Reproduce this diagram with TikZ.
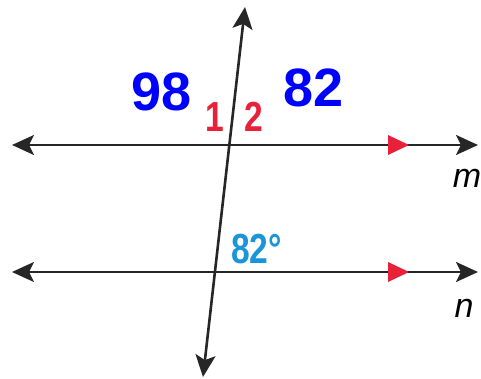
\documentclass[tikz,border=0pt]{standalone}
\usepackage{fontspec}
\setmainfont{Liberation Sans}
\newfontfamily\labelfont[FakeStretch=0.8]{Liberation Sans}
\usepackage{xcolor}
\usepackage[]{tikz}
\usetikzlibrary{positioning,calc}
\usetikzlibrary{arrows.meta}
\definecolor{markRed}{HTML}{E8203A}
\definecolor{angleBlue}{HTML}{1A96D8}
\definecolor{inkBlue}{HTML}{0000FF}
\tikzstyle{lineBlack} =[line width=2.6pt, black!85,
  {Stealth[length=22pt,width=20pt,inset=5pt]}-{Stealth[length=22pt,width=20pt,inset=5pt]}]
\tikzstyle{parMark}   =[fill=markRed]
\tikzstyle{numRed}    =[markRed, inner sep=0pt, font=\labelfont\bfseries\fontsize{42}{42}\selectfont]
\tikzstyle{numBlue}   =[angleBlue, inner sep=0pt, font=\labelfont\bfseries\fontsize{42}{42}\selectfont]
\tikzstyle{numInk}    =[inkBlue, inner sep=0pt, font=\bfseries\fontsize{54}{54}\selectfont]
\tikzstyle{lineName}  =[inner sep=0pt, font=\itshape\fontsize{34}{34}\selectfont]

\begin{document}
\begin{tikzpicture}[x=1pt,y=-1pt]
      \useasboundingbox (0,0) rectangle (481,379);
      % ends of the lines
      \coordinate (mL) at (12,145);
      \coordinate (mR) at (478,145);
      \coordinate (nL) at (12,272);
      \coordinate (nR) at (478,272);
      \coordinate (tT) at (245,7);
      \coordinate (tB) at (203,377);
      \draw[lineBlack] (mL) -- (mR);
      \draw[lineBlack] (nL) -- (nR);
      \draw[lineBlack] (tB) -- (tT);
      % parallel marks
      \fill[parMark] (388,135) -- (409,145) -- (388,155) -- cycle;
      \fill[parMark] (388,262) -- (409,272) -- (388,282) -- cycle;
      % labels
      \node[numRed, anchor=base] (a1) at (215,132) {1};
      \node[numRed, anchor=base] (a2) at (254,132) {2};
      \node[numBlue, anchor=base west] (ang) at (231,263) {82°};
      \node[lineName, anchor=base] (m) at (467,188) {m};
      \node[lineName, anchor=base] (n) at (464,317) {n};
      \node[numInk, anchor=base] (h98) at (162,111) {98};
      \node[numInk, anchor=base] (h82) at (314,107) {82};
    \end{tikzpicture}
\end{document}
